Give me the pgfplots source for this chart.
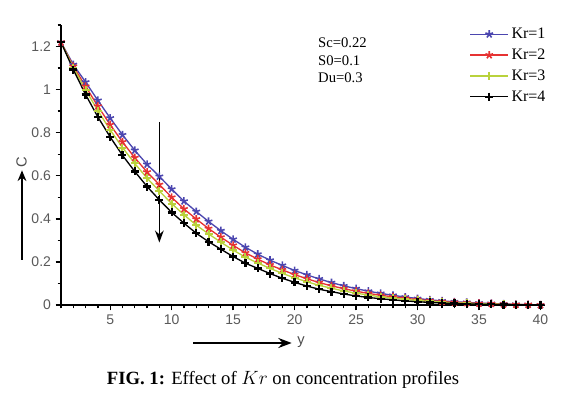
\documentclass[border=0pt]{standalone}
\usepackage{pgfplots}
\pgfplotsset{compat=1.18}
\usepackage{fontspec}
\setmainfont{Liberation Serif}
\setsansfont{Liberation Sans}
\usetikzlibrary{arrows.meta}
\definecolor{cblue}{RGB}{75,70,175}
\definecolor{cred}{RGB}{230,50,50}
\definecolor{cgreen}{RGB}{185,210,60}
\begin{document}
\begin{tikzpicture}
\path[use as bounding box] (-45.75pt,-70.5pt) rectangle (384.75pt,228.75pt);
\begin{axis}[
  at={(0,0)}, anchor=south west,
  scale only axis, width=363.3pt, height=210pt,
  xmin=1, xmax=40.4, ymin=0, ymax=1.3,
  axis x line*=bottom, axis y line*=left,
  axis line style={line width=1.4pt,-},
  xtick={5,10,...,40}, minor xtick={1,...,40},
  ytick={0,0.2,0.4,0.6,0.8,1,1.2},
  minor ytick={0.1,0.3,0.5,0.7,0.9,1.1,1.3},
  tick align=outside,
  major tick length=4pt, minor tick length=2.5pt,
  every tick/.style={black, line width=1pt},
  /pgf/number format/assume math mode=true,
  ticklabel style={font=\fontsize{10.5}{12}\selectfont\sffamily, text=black!65},
  legend style={at={(0.843,1.0)}, anchor=north west, draw=none, fill=none,
    font=\fontsize{12}{13}\selectfont, row sep=2.2pt, inner sep=0pt},
  legend cell align=left,
  legend image code/.code={\draw[mark repeat=2,mark phase=2] plot coordinates {(0cm,0cm)(0.5cm,0cm)(1.0cm,0cm)};},
  every axis plot/.append style={line width=1pt, mark size=3pt},
]
\addplot[color=cblue, mark=star, mark options={line width=1.2pt}] coordinates {
(1,1.22)(2,1.116)(3,1.035)(4,0.95)(5,0.868)(6,0.79)(7,0.718)(8,0.653)(9,0.597)(10,0.538)
(11,0.482)(12,0.434)(13,0.388)(14,0.345)(15,0.305)(16,0.268)(17,0.236)(18,0.208)(19,0.184)(20,0.160)
(21,0.140)(22,0.121)(23,0.104)(24,0.089)(25,0.076)(26,0.064)(27,0.054)(28,0.045)(29,0.037)(30,0.030)
(31,0.024)(32,0.019)(33,0.015)(34,0.012)(35,0.009)(36,0.007)(37,0.005)(38,0.003)(39,0.002)(40,0.0)};
\addlegendentry{Kr=1}
\addplot[color=cred, mark=star, mark options={line width=1.2pt}] coordinates {
(1,1.22)(2,1.108)(3,1.015)(4,0.923)(5,0.837)(6,0.757)(7,0.684)(8,0.617)(9,0.559)(10,0.500)
(11,0.446)(12,0.399)(13,0.355)(14,0.315)(15,0.277)(16,0.242)(17,0.213)(18,0.186)(19,0.163)(20,0.141)
(21,0.122)(22,0.104)(23,0.089)(24,0.076)(25,0.064)(26,0.054)(27,0.045)(28,0.038)(29,0.031)(30,0.025)
(31,0.020)(32,0.016)(33,0.012)(34,0.010)(35,0.007)(36,0.006)(37,0.004)(38,0.002)(39,0.002)(40,0.0)};
\addlegendentry{Kr=2}
\addplot[color=cgreen, mark=+, mark options={line width=1.5pt}] coordinates {
(1,1.22)(2,1.102)(3,0.999)(4,0.902)(5,0.813)(6,0.731)(7,0.657)(8,0.589)(9,0.529)(10,0.471)
(11,0.419)(12,0.371)(13,0.330)(14,0.292)(15,0.255)(16,0.222)(17,0.195)(18,0.170)(19,0.147)(20,0.126)
(21,0.108)(22,0.091)(23,0.078)(24,0.065)(25,0.055)(26,0.046)(27,0.038)(28,0.032)(29,0.026)(30,0.021)
(31,0.017)(32,0.013)(33,0.010)(34,0.008)(35,0.006)(36,0.005)(37,0.003)(38,0.002)(39,0.001)(40,0.0)};
\addlegendentry{Kr=3}
\addplot[color=black, mark=+, mark options={line width=1.7pt}] coordinates {
(1,1.22)(2,1.093)(3,0.977)(4,0.873)(5,0.78)(6,0.695)(7,0.62)(8,0.55)(9,0.488)(10,0.43)
(11,0.38)(12,0.333)(13,0.294)(14,0.259)(15,0.225)(16,0.194)(17,0.17)(18,0.146)(19,0.124)(20,0.105)
(21,0.088)(22,0.073)(23,0.062)(24,0.051)(25,0.042)(26,0.035)(27,0.029)(28,0.024)(29,0.019)(30,0.015)
(31,0.012)(32,0.009)(33,0.007)(34,0.005)(35,0.004)(36,0.003)(37,0.002)(38,0.001)(39,0.001)(40,0.0)};
\addlegendentry{Kr=4}
\draw[line width=1pt, -{Stealth[length=9pt,width=6.5pt]}] (axis cs:9,0.85) -- (axis cs:9,0.29);
\node[anchor=base west, font=\fontsize{11}{12}\selectfont, inner sep=0pt] at (axis cs:21.9,1.195) {Sc=0.22};
\node[anchor=base west, font=\fontsize{11}{12}\selectfont, inner sep=0pt] at (axis cs:21.9,1.112) {S0=0.1};
\node[anchor=base west, font=\fontsize{11}{12}\selectfont, inner sep=0pt] at (axis cs:21.9,1.033) {Du=0.3};
\end{axis}
% y label with arrow
\draw[line width=1.4pt, -{Stealth[length=8pt,width=6.5pt]}] (-29.25pt,33.75pt) -- (-29.25pt,101pt);
\node[rotate=90, font=\fontsize{11}{12}\selectfont\sffamily, text=black!70, inner sep=0pt] at (-29.5pt,107pt) {C};
% x label with arrow
\draw[line width=2pt, -{Stealth[length=10pt,width=7.5pt]}] (99pt,-28.5pt) -- (173pt,-28.5pt);
\node[font=\fontsize{11}{12}\selectfont\sffamily, text=black!70, inner sep=0pt] at (180pt,-28pt) {y};
% caption
\node[font=\fontsize{14}{16}\selectfont, inner sep=0pt] at (166.5pt,-56.25pt) {\textbf{FIG. 1:} Effect of $Kr$ on concentration profiles};
\end{tikzpicture}
\end{document}
